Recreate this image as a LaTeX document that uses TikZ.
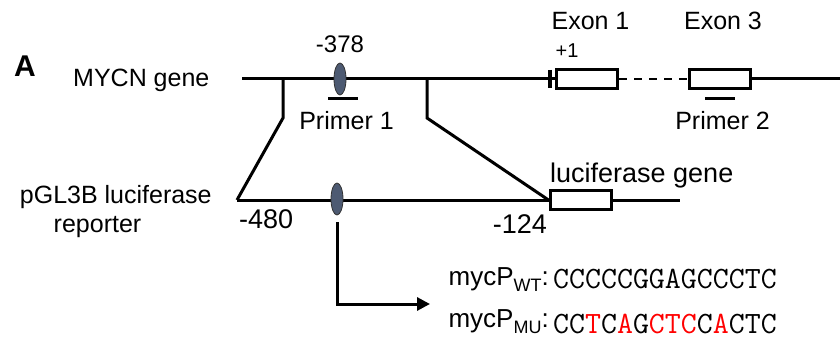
\documentclass[tikz,border=0pt]{standalone}
\usepackage{fontspec}
\setmainfont{Liberation Sans}
\usepackage{xcolor}
\definecolor{siteGray}{HTML}{4D5A72}
\definecolor{mutRed}{HTML}{FF0000}
\usepackage{tikz}
\usetikzlibrary{positioning,shapes.geometric,arrows.meta}
\newcommand{\mut}[1]{\textcolor{mutRed}{#1}}
\newcommand{\subtag}[1]{\raisebox{-6pt}{\fontsize{18}{18}\selectfont #1}}
\tikzset{
  dna/.style={line width=3pt},
  exonbox/.style={draw, line width=3pt, fill=white, minimum width=61pt, minimum height=19pt, inner sep=0pt},
  site/.style={ellipse, draw=black!80, line width=0.8pt, fill=siteGray, minimum width=12pt, minimum height=32pt, inner sep=0pt},
  lbl/.style={font=\fontsize{25}{27}\selectfont, inner sep=0pt},
  seqtxt/.style={font=\ttfamily\fontsize{31}{33}\selectfont, inner sep=0pt}
}

\begin{document}
\begin{tikzpicture}[>={Triangle[length=13pt,width=13pt]}, x=1pt, y=-1pt]
  \useasboundingbox (0,0) rectangle (840,342);
  % MYCN gene row
  \node[inner sep=0pt, font=\bfseries\fontsize{30}{32}\selectfont, anchor=base west] (panel) at (14,77) {A};
  \node[lbl, anchor=base west] (mycnLbl) at (73,87) {MYCN gene};
  \coordinate (mycnL) at (242,79);
  \coordinate (mycnR) at (840,79);
  \coordinate (tss) at (550,79);
  \node[exonbox] (exon1) at (587,79) {};
  \node[exonbox] (exon3) at (719.5,79) {};
  \draw[dna] (mycnL) -- (tss);
  \draw[line width=4pt] ([yshift=9pt]tss) -- ([yshift=-9pt]tss);
  \draw[dna] (tss) -- (exon1.west);
  \draw[line width=2pt, dash pattern=on 8pt off 7pt] (exon1.east) -- (exon3.west);
  \draw[dna] (exon3.east) -- (mycnR);
  \node[site] (site1) at (340,79) {};
  \node[inner sep=0pt, font=\fontsize{24}{26}\selectfont, anchor=base] (pos378) at (340,53) {-378};
  \node[inner sep=0pt, font=\fontsize{20}{22}\selectfont, anchor=base] (pos1) at (567,58) {+1};
  \node[lbl, anchor=base] (exon1Lbl) at (590.5,30) {Exon 1};
  \node[lbl, anchor=base] (exon3Lbl) at (723,30) {Exon 3};
  % primers
  \draw[dna] (328,99) -- (358,99);
  \draw[dna] (705,99) -- (735,99);
  \node[lbl, anchor=base] (primer1) at (346.5,130) {Primer 1};
  \node[lbl, anchor=base] (primer2) at (722.5,130) {Primer 2};
  % cloned fragment
  \coordinate (cutL) at (283,79);
  \coordinate (cutR) at (427,79);
  \coordinate (repL) at (237,200);
  \coordinate (repR) at (680,200);
  \node[exonbox] (luc) at (580.5,200) {};
  \draw[dna] (cutL) -- ++(0,39) -- (repL);
  \draw[dna] (cutR) -- ++(0,39) -- (luc.west);
  \draw[dna] (repL) -- (luc.west);
  \draw[dna] (luc.east) -- (repR);
  \node[site] (site2) at (337,199) {};
  \node[inner sep=0pt, font=\fontsize{27}{29}\selectfont, anchor=base west] (lucLbl) at (550,182) {luciferase gene};
  \node[lbl, anchor=base] (repLbl1) at (115.8,203) {pGL3B luciferase};
  \node[lbl, anchor=base] (repLbl2) at (97.5,232) {reporter};
  \node[inner sep=0pt, font=\fontsize{27}{29}\selectfont, anchor=base west] (pos480) at (239,228) {-480};
  \node[inner sep=0pt, font=\fontsize{27}{29}\selectfont, anchor=base east] (pos124) at (547,233) {-124};
  % sequences
  \coordinate (seqTip) at (430,304);
  \draw[dna, ->] ([yshift=-7pt]site2.south) |- (seqTip);
  \node[seqtxt, anchor=base west] (seqWT) at (553,288) {CCCCCGGAGCCCTC};
  \node[seqtxt, anchor=base west] (seqMU) at (553,333) {CC\mut{T}C\mut{A}G\mut{CTC}C\mut{A}CTC};
  \node[inner sep=0pt, font=\fontsize{26}{28}\selectfont, anchor=base east] (wtLbl) at (549,285) {mycP\subtag{WT}:};
  \node[inner sep=0pt, font=\fontsize{26}{28}\selectfont, anchor=base east] (muLbl) at (549,327) {mycP\subtag{MU}:};
\end{tikzpicture}
\end{document}
